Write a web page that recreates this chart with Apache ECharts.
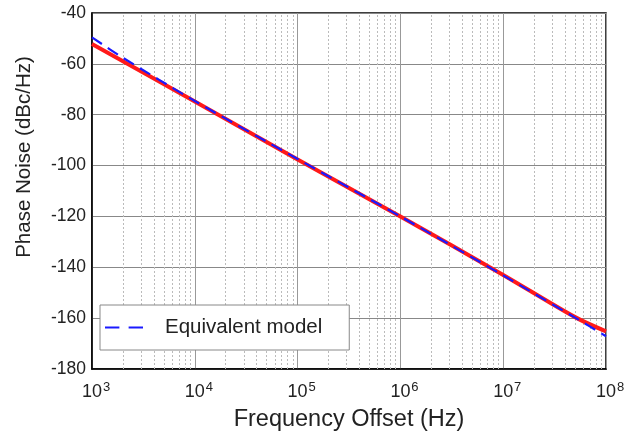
<!DOCTYPE html>
<html><head><meta charset="utf-8">
<script src="https://cdn.jsdelivr.net/npm/echarts@6/dist/echarts.min.js"></script>
<style>html,body{margin:0;padding:0;background:#fff}#c{width:637px;height:438px}</style>
</head><body><div id="c"></div>
<script>
const modelFreqs = [1e3, 2e3, 1e4, 1e5, 1e6, 1e7, 5e7, 1e8];
const equivalentModel = [-49.6, -57.6, -74.6, -97.4, -120, -143.2, -159.8, -167.1];
const measuredFreqs = [1e3, 1e4, 1e5, 1e6, 1e7, 5e7, 1e8];
const measured = [-52.2, -74.8, -97.6, -120, -143, -159.6, -165.2];
const yTicks = [-180, -160, -140, -120, -100, -80, -60, -40];
const xTickExponents = [3, 4, 5, 6, 7, 8];

const minorLines = [];
for (let d = 3; d < 8; d++) for (let k = 2; k <= 9; k++) minorLines.push({xAxis: k * Math.pow(10, d)});

const chart = echarts.init(document.getElementById('c'));
const font = 'Liberation Sans, Arial, sans-serif';
chart.setOption({
  animation: false,
  grid: {left: 92, right: 31, top: 13, bottom: 69, show: true, borderColor: '#000', borderWidth: 1.5},
  legend: {
    data: [{name: 'Equivalent model', icon: 'path://M0,0H14V2H0ZM23,0H37V2H23Z'}],
    left: 100, top: 305, z: 50, zlevel: 1,
    orient: 'vertical', backgroundColor: '#fff', borderColor: '#888', borderWidth: 1,
    padding: [12, 27, 12, 5], itemWidth: 38, itemHeight: 2.5, itemGap: 0,
    textStyle: {fontFamily: font, fontSize: 20.5, color: '#222', padding: [0, 0, 0, 17]}
  },
  xAxis: {
    type: 'log', logBase: 10, min: 1e3, max: 1e8,
    name: 'Frequency Offset (Hz)', nameLocation: 'middle', nameGap: 39,
    nameTextStyle: {fontFamily: font, fontSize: 23.5, color: '#222'},
    axisLine: {show: true, lineStyle: {color: '#000', width: 1.5}},
    axisTick: {show: false},
    splitLine: {show: true, lineStyle: {color: '#999', width: 1}},
    axisLabel: {
      margin: 12, fontFamily: font,
      formatter: v => { const e = Math.round(Math.log10(v)); return xTickExponents.includes(e) ? '{p|}{b|10}{s|' + e + '}' : ''; },
      rich: {
        p: {width: 9},
        b: {fontFamily: font, fontSize: 18, color: '#222'},
        s: {fontFamily: font, fontSize: 13, color: '#222', width: 9, verticalAlign: 'top', padding: [0, 0, 9, 0]}
      }
    }
  },
  yAxis: {
    type: 'value', min: yTicks[0], max: yTicks[yTicks.length - 1], interval: 20,
    name: 'Phase Noise (dBc/Hz)', nameLocation: 'middle', nameGap: 57,
    nameTextStyle: {fontFamily: font, fontSize: 20.5, color: '#222', padding: [0, 0, 0, 68]},
    axisLine: {show: true, lineStyle: {color: '#000', width: 1.5}},
    axisTick: {show: false},
    splitLine: {show: true, lineStyle: {color: '#888', width: 1}},
    axisLabel: {fontFamily: font, fontSize: 17.5, color: '#222', margin: 6}
  },
  series: [
    {
      name: 'grid', type: 'line', data: [], silent: true, z: 1,
      markLine: {silent: true, symbol: 'none', label: {show: false}, z: 1,
        lineStyle: {color: '#bbb', type: [2, 2], width: 1}, data: minorLines}
    },
    {
      name: 'Measured', type: 'line', symbol: 'none', color: '#ff1a1a', smooth: 0.3,
      data: measuredFreqs.map((f, i) => [f, measured[i]]),
      lineStyle: {color: '#ff1a1a', width: 4}, z: 3
    },
    {
      name: 'Equivalent model', type: 'line', symbol: 'none', color: '#1a1aff', smooth: 0.3,
      data: modelFreqs.map((f, i) => [f, equivalentModel[i]]),
      lineStyle: {color: '#1a1aff', width: 2.2, type: [12, 7]}, z: 4
    }
  ]
});
</script></body></html>
